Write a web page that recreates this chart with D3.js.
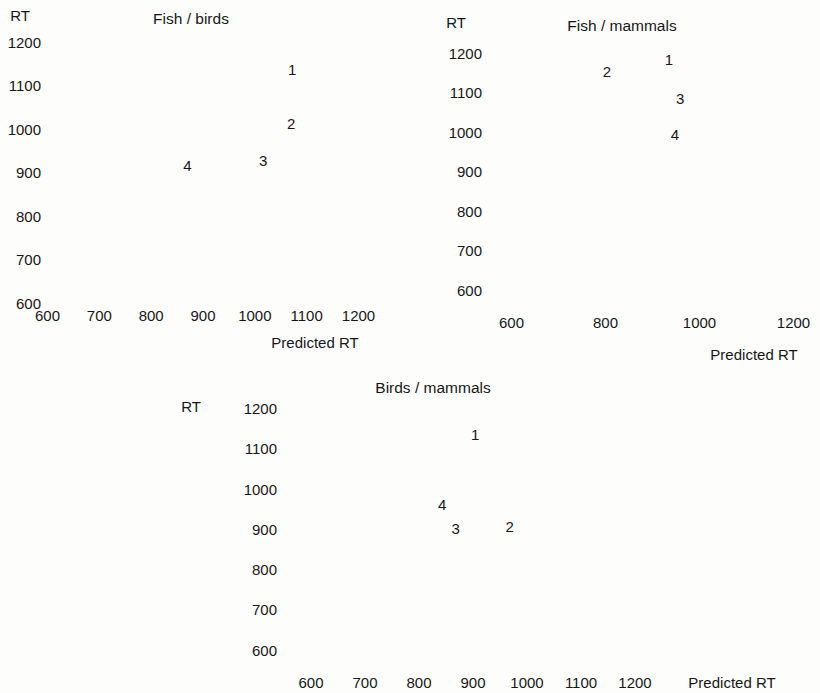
<!DOCTYPE html>
<html lang="en">
<head>
<meta charset="utf-8">
<title>RT vs predicted RT</title>
<script src="https://d3js.org/d3.v7.min.js" charset="utf-8"></script>
<style type="text/css">
    body { margin: 0; background: #fdfdfc; }
    svg text { font-family: 'Liberation Sans', Arial, Helvetica, sans-serif; fill: #171717; }
</style>
</head>
<body>
<svg id="svg"></svg>
<script type="text/javascript">

    // point labels (conditions) shared by all panels
    var pointLabels = ['1', '2', '3', '4'];

    // Fish / birds
    var fishBirdsPredicted = [1073, 1071, 1017, 871];
    var fishBirdsRT = [1136, 1011, 926, 915];

    // Fish / mammals
    var fishMammalsPredicted = [936, 804, 960, 949];
    var fishMammalsRT = [1182, 1152, 1084, 992];

    // Birds / mammals
    var birdsMammalsPredicted = [905, 969, 869, 844];
    var birdsMammalsRT = [1134, 906, 900, 960];

    var yTicks = [600, 700, 800, 900, 1000, 1100, 1200];
    var xTicksFine = [600, 700, 800, 900, 1000, 1100, 1200];
    var xTicksCoarse = [600, 800, 1000, 1200];

    var width = 820, height = 693;

    var svg = d3.select('svg')
            .attr('width', width)
            .attr('height', height);

    function drawPanel(p) {
        var x = d3.scaleLinear().domain([600, 1200]).range(p.xRange);
        var y = d3.scaleLinear().domain([600, 1200]).range(p.yRange);
        var g = svg.append('g').style('font-size', p.fontSize + 'px');

        var yAxis = g.append('g')
                .attr('transform', 'translate(' + p.yAxisX + ',0)')
                .call(d3.axisLeft(y).tickValues(yTicks).tickSize(0).tickPadding(0).tickFormat(d3.format('d')));
        var xAxis = g.append('g')
                .attr('transform', 'translate(0,' + p.xAxisY + ')')
                .call(d3.axisBottom(x).tickValues(p.xTicks).tickSize(0).tickPadding(0).tickFormat(d3.format('d')));

        [yAxis, xAxis].forEach(function (a) {
            a.attr('font-family', null).attr('font-size', null);
            a.select('.domain').remove();
            a.selectAll('text').attr('fill', null);
        });
        xAxis.selectAll('text').attr('y', 0).attr('dy', '0.35em');
        yAxis.selectAll('text').attr('dy', '0.35em');

        g.selectAll('text.pt')
                .data(pointLabels)
                .enter().append('text')
                .attr('class', 'pt')
                .attr('x', function (d, i) { return x(p.predicted[i]); })
                .attr('y', function (d, i) { return y(p.rt[i]); })
                .attr('dy', '0.35em')
                .attr('text-anchor', 'middle')
                .text(function (d) { return d; });

        g.append('text')
                .attr('x', p.rtLabel[0]).attr('y', p.rtLabel[1])
                .attr('dy', '0.35em').attr('text-anchor', 'middle')
                .text('RT');
        g.append('text')
                .attr('x', p.title[0]).attr('y', p.title[1])
                .attr('dy', '0.35em').attr('text-anchor', 'middle')
                .style('font-size', (p.fontSize + 0.5) + 'px')
                .text(p.name);
        g.append('text')
                .attr('x', p.xLabel[0]).attr('y', p.xLabel[1])
                .attr('dy', '0.35em').attr('text-anchor', 'middle')
                .text('Predicted RT');
    }

    drawPanel({
        name: 'Fish / birds',
        predicted: fishBirdsPredicted, rt: fishBirdsRT, xTicks: xTicksFine,
        xRange: [47, 358], yRange: [303, 42], yAxisX: 41, xAxisY: 316,
        fontSize: 15, rtLabel: [20, 16], title: [191, 19], xLabel: [315, 343]
    });

    drawPanel({
        name: 'Fish / mammals',
        predicted: fishMammalsPredicted, rt: fishMammalsRT, xTicks: xTicksCoarse,
        xRange: [511, 793], yRange: [290, 53], yAxisX: 482, xAxisY: 323,
        fontSize: 15, rtLabel: [456, 23], title: [622, 26], xLabel: [754, 355]
    });

    drawPanel({
        name: 'Birds / mammals',
        predicted: birdsMammalsPredicted, rt: birdsMammalsRT, xTicks: xTicksFine,
        xRange: [310.5, 634.5], yRange: [650, 408.3], yAxisX: 277, xAxisY: 683,
        fontSize: 15, rtLabel: [191, 407], title: [433, 388], xLabel: [732, 683]
    });

</script>
</body>
</html>
